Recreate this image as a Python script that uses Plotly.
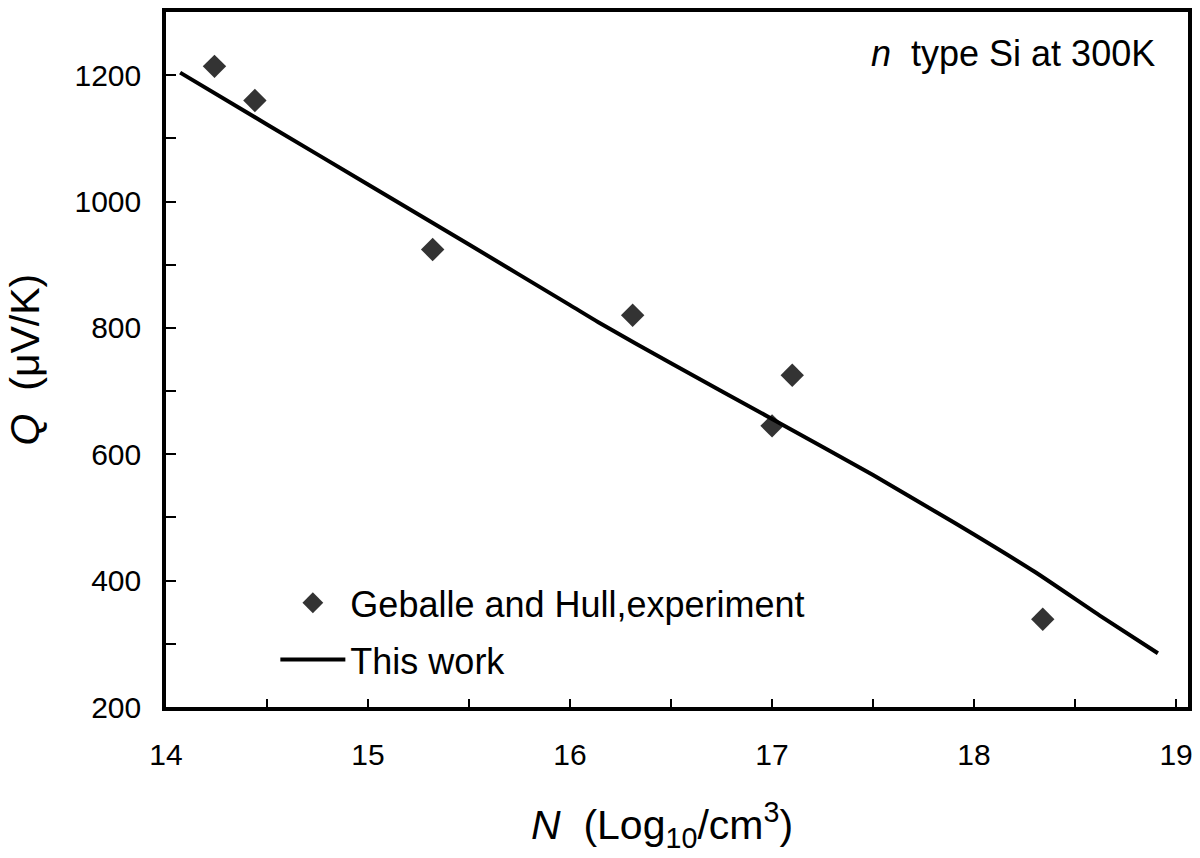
import plotly.graph_objects as go

# Geballe and Hull experimental points
exp_N = [14.24, 14.44, 15.32, 16.31, 17.00, 17.10, 18.34]
exp_Q = [1214, 1160, 924, 820, 645, 725, 339]

# model curve ("This work")
model_N = [14.07, 14.5, 15.0, 15.5, 16.0, 16.14, 16.5, 17.0, 17.5, 17.81,
           18.0, 18.3, 18.63, 18.91]
model_Q = [1204, 1122, 1027, 932, 836, 809, 744, 656, 567, 509,
           473, 414, 343, 285]

FONT = "Liberation Sans, Arial, sans-serif"

fig = go.Figure()
fig.add_trace(go.Scatter(x=exp_N, y=exp_Q, mode="markers",
                         name="Geballe and Hull,experiment", legendgroup="a",
                         marker=dict(symbol="diamond", size=18, color="#333333")))
fig.add_trace(go.Scatter(x=model_N, y=model_Q, mode="lines",
                         name="This work", legendgroup="b",
                         line=dict(color="black", width=4, shape="spline",
                                   smoothing=0.6)))

fig.update_layout(
    width=1200, height=858,
    margin=dict(l=166, r=7, t=12, b=151),
    paper_bgcolor="white", plot_bgcolor="white",
    font=dict(family=FONT, color="black", size=30),
    legend=dict(x=0.107, y=0.193, xanchor="left", yanchor="top",
                bgcolor="rgba(0,0,0,0)", font=dict(size=36),
                itemwidth=65, traceorder="grouped", tracegroupgap=7),
    annotations=[
        dict(text="<i>n</i>  type Si at 300K", x=0.97, y=0.941,
             xref="paper", yref="paper", xanchor="right", yanchor="middle",
             showarrow=False, font=dict(size=36)),
        dict(text="<i>N</i>  (Log<sub>10</sub>/cm<sup>3</sup>)", x=0.485, y=-0.17,
             xref="paper", yref="paper", xanchor="center", yanchor="middle",
             showarrow=False, font=dict(size=41)),
        dict(text="<i>Q</i>  (\u03bcV/K)", x=-0.138, y=0.5, textangle=-90,
             xref="paper", yref="paper", xanchor="center", yanchor="middle",
             showarrow=False, font=dict(size=41)),
    ],
)

fig.update_xaxes(range=[14, 19.059], dtick=1, tick0=14,
                 showline=True, linecolor="black", linewidth=3.5, mirror=True,
                 ticks="inside", ticklen=8, tickwidth=2, tickcolor="black",
                 minor=dict(dtick=0.5, ticks="inside", ticklen=8, tickwidth=2,
                            tickcolor="black"),
                 showgrid=False, zeroline=False, ticklabelstandoff=18,
                 tickfont=dict(size=30))
fig.update_yaxes(range=[200, 1300], dtick=200, tick0=200,
                 showline=True, linecolor="black", linewidth=3.5, mirror=True,
                 ticks="inside", ticklen=10, tickwidth=2, tickcolor="black",
                 minor=dict(dtick=100, ticks="inside", ticklen=10, tickwidth=2,
                            tickcolor="black"),
                 showgrid=False, zeroline=False, ticklabelstandoff=15,
                 tickfont=dict(size=30))

# drop the page's default body margin so the figure fills the window exactly
fig.write_html("out.html", config={"displayModeBar": False},
               post_script="document.body.style.margin='0';"
                           "document.body.style.overflow='hidden';")
